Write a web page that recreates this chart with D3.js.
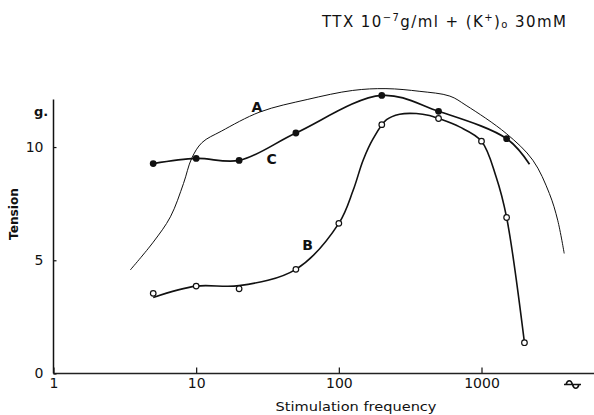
<!DOCTYPE html>
<html>
<head>
<meta charset="utf-8">
<script src="https://cdn.jsdelivr.net/npm/d3@7"></script>
<style>
  html, body { margin: 0; padding: 0; background: #fff; }
  svg { display: block; }
  text { font-family: "DejaVu Sans", sans-serif; fill: #111; }
</style>
</head>
<body>
<svg id="chart" width="594" height="415"></svg>
<script>
// Measured points (stimulation frequency, Hz → tension, g)
const bFreq = [5, 10, 20, 50, 100, 200, 500, 1000, 1500, 2000];
const bTension = [3.54, 3.86, 3.74, 4.6, 6.63, 10.99, 11.26, 10.26, 6.89, 1.36];
const cFreq = [5, 10, 20, 50, 200, 500, 1500];
const cTension = [9.27, 9.5, 9.41, 10.62, 12.28, 11.58, 10.37];

// Hand-drawn smooth curves through / near the points
const aCurveFreq = [3.45, 5.0, 6.6, 8.15, 9.3, 11.0, 15, 28, 60, 125, 214, 370, 600, 780, 1490, 2290, 2990, 3420, 3800];
const aCurveTension = [4.57, 5.8, 6.92, 8.39, 9.5, 10.2, 10.7, 11.55, 12.1, 12.5, 12.58, 12.46, 12.25, 11.84, 10.6, 9.42, 7.95, 6.77, 5.3];
const bCurveFreq = [5, 10, 20, 50, 100, 126, 148, 174, 216, 267, 349, 432, 500, 702, 1000, 1267, 1500, 2000];
const bCurveTension = [3.36, 3.86, 3.88, 4.6, 6.63, 8.09, 9.42, 10.37, 11.21, 11.45, 11.48, 11.39, 11.26, 10.89, 10.26, 8.68, 6.89, 1.36];
const cCurveFreq = [5, 10, 20, 50, 200, 500, 1500, 2170];
const cCurveTension = [9.27, 9.5, 9.41, 10.62, 12.28, 11.58, 10.37, 9.24];

// Axis ticks and labels
const xTicks = [1, 10, 100, 1000];
const xTickLabels = ["1", "10", "100", "1000"];
const yTicks = [0, 5, 10];
const curveLabels = ["A", "B", "C"];
const curveLabelAt = [[26.7, 11.75], [60.5, 5.67], [33.8, 9.47]];

const svg = d3.select("#chart");

const x = d3.scaleLog().domain([1, 1000]).range([53.5, 481.5]);
const y = d3.scaleLinear().domain([0, 12.1]).range([373.5, 99.5]);

// Axes
const gx = svg.append("g").attr("transform", `translate(0,${y(0)})`)
  .call(d3.axisBottom(x).tickValues(xTicks)
    .tickFormat((d, i) => xTickLabels[i])
    .tickSizeInner(-6).tickSizeOuter(0).tickPadding(5));
gx.select(".domain").remove();
gx.selectAll(".tick line").attr("stroke", "#111").attr("stroke-width", 1.2);
gx.selectAll(".tick text").attr("font-size", 14).attr("fill", "#111");
svg.append("line").attr("x1", x(1)).attr("x2", 594)
  .attr("y1", y(0)).attr("y2", y(0))
  .attr("stroke", "#222").attr("stroke-width", 1.5);

const gy = svg.append("g").attr("transform", `translate(${x(1)},0)`)
  .call(d3.axisLeft(y).tickValues(yTicks)
    .tickSizeInner(-3).tickSizeOuter(0).tickPadding(10));
gy.select(".domain").remove();
gy.selectAll(".tick line").attr("stroke", "#111").attr("stroke-width", 1.2);
gy.selectAll(".tick text").attr("font-size", 14).attr("fill", "#111");
svg.append("line").attr("x1", x(1)).attr("x2", x(1))
  .attr("y1", y(0)).attr("y2", y(12.1))
  .attr("stroke", "#111").attr("stroke-width", 1.5);

// Unit mark on the tension axis
svg.append("text").attr("x", 41).attr("y", 116)
  .attr("text-anchor", "middle").attr("font-size", 13).attr("font-weight", "bold")
  .text("g.");

// Symbol at the right end of the frequency axis
const symY = 384.5;
svg.append("path")
  .attr("d", `M564,${symY}H581M566,${symY}C567.5,${symY - 5} 571,${symY - 5} 572.5,${symY}C574,${symY + 5} 577.5,${symY + 5} 579,${symY}`)
  .attr("fill", "none").attr("stroke", "#111").attr("stroke-width", 1.6);

// Axis titles
svg.append("text").attr("x", 356).attr("y", 411)
  .attr("text-anchor", "middle").attr("font-size", 13)
  .attr("textLength", 161).attr("lengthAdjust", "spacingAndGlyphs")
  .text("Stimulation frequency");
svg.append("text").attr("transform", "translate(18,214) rotate(-90)")
  .attr("text-anchor", "middle").attr("font-size", 13).attr("font-weight", "bold")
  .attr("textLength", 52).attr("lengthAdjust", "spacingAndGlyphs")
  .text("Tension");

// Title
const title = svg.append("text").attr("x", 322).attr("y", 27).attr("font-size", 15)
  .attr("textLength", 244).attr("lengthAdjust", "spacing");
title.append("tspan").text("TTX 10");
title.append("tspan").attr("font-size", 10).attr("dy", -6).text("−7");
title.append("tspan").attr("dy", 6).text("g/ml + (K");
title.append("tspan").attr("font-size", 10).attr("dy", -6).text("+");
title.append("tspan").attr("dy", 6).text(")");
title.append("tspan").attr("font-size", 10).attr("dy", 1).text("o");
title.append("tspan").attr("dy", -1).text(" 30mM");

// Curves
const line = d3.line()
  .x(d => x(d[0])).y(d => y(d[1]))
  .curve(d3.curveCatmullRom.alpha(0.5));
const zip = (fs, vs) => fs.map((f, i) => [f, vs[i]]);

svg.append("path").datum(zip(aCurveFreq, aCurveTension))
  .attr("d", line).attr("fill", "none").attr("stroke", "#111").attr("stroke-width", 1);
svg.append("path").datum(zip(bCurveFreq, bCurveTension))
  .attr("d", line).attr("fill", "none").attr("stroke", "#111").attr("stroke-width", 1.6);
svg.append("path").datum(zip(cCurveFreq, cCurveTension))
  .attr("d", line).attr("fill", "none").attr("stroke", "#111").attr("stroke-width", 1.7);

// Markers
svg.append("g").selectAll("circle").data(zip(cFreq, cTension)).join("circle")
  .attr("cx", d => x(d[0])).attr("cy", d => y(d[1])).attr("r", 3.4)
  .attr("fill", "#111");
svg.append("g").selectAll("circle").data(zip(bFreq, bTension)).join("circle")
  .attr("cx", d => x(d[0])).attr("cy", d => y(d[1])).attr("r", 2.8)
  .attr("fill", "#fff").attr("stroke", "#111").attr("stroke-width", 1.2);

// Curve letters
svg.append("g").selectAll("text").data(curveLabels).join("text")
  .attr("x", (d, i) => x(curveLabelAt[i][0])).attr("y", (d, i) => y(curveLabelAt[i][1]))
  .attr("text-anchor", "middle").attr("dy", "0.36em")
  .attr("font-size", 14).attr("font-weight", "bold")
  .text(d => d);
</script>
</body>
</html>
